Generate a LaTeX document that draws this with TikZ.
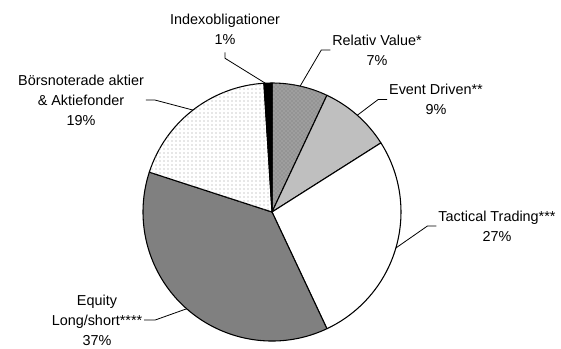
\documentclass[tikz,border=0pt]{standalone}
\usepackage{fontspec}
\setmainfont{Liberation Sans}
\usetikzlibrary{patterns}
\definecolor{rvgray}{gray}{0.62}
\definecolor{edgray}{gray}{0.75}
\definecolor{eqgray}{gray}{0.5}

\begin{document}
\begin{tikzpicture}[x=0.75pt,y=0.75pt]
\tikzstyle{every node}+=[inner sep=0pt, outer sep=1.5pt, align=center, font=\fontsize{10.8}{15}\selectfont]
\tikzstyle{slice}=[draw=black, line width=0.8pt, line join=round]
\tikzstyle{leader}=[draw=black, line width=0.6pt]
\useasboundingbox (0,0) rectangle (561,-349);
\coordinate (c) at (272,-212);
% slices, clockwise from the top
\filldraw [slice, fill=rvgray, postaction={pattern=crosshatch dots, pattern color=black!55}] (c) -- ++(90:129) arc (90:64.8:129) -- cycle;
\filldraw [slice, fill=edgray] (c) -- ++(64.8:129) arc (64.8:32.4:129) -- cycle;
\filldraw [slice, fill=white] (c) -- ++(32.4:129) arc (32.4:-64.8:129) -- cycle;
\filldraw [slice, fill=eqgray] (c) -- ++(-64.8:129) arc (-64.8:-198:129) -- cycle;
\filldraw [slice, fill=white, postaction={pattern=dots, pattern color=black!40}] (c) -- ++(162:129) arc (162:93.6:129) -- cycle;
\filldraw [slice, fill=black] (c) -- ++(93.6:129) arc (93.6:90:129) -- cycle;
% points on the rim
\path (c) ++(93:129) coordinate (ix-tip);
\path (c) ++(77.4:129) coordinate (rv-tip);
\path (c) ++(48.6:129) coordinate (ed-tip);
\path (c) ++(-16.2:129) coordinate (tt-tip);
\path (c) ++(228.6:129) coordinate (eq-tip);
\path (c) ++(127.8:129) coordinate (bo-tip);
% labels
\node (ix) at (225,-29) {Indexobligationer\\1\%};
\node (rv) at (377,-50) {Relativ Value*\\7\%};
\node (ed) at (436,-99.5) {Event Driven**\\9\%};
\node (tt) at (497,-226) {Tactical Trading***\\27\%};
\node (eq) at (97,-320) {Equity\\Long/short****\\37\%};
\node (bo) at (81,-100) {B\"orsnoterade aktier\\\& Aktiefonder\\19\%};
% leader lines
\draw [leader] (ix.south) ++(0,-6) -- ++(0,-6) -- (ix-tip);
\draw [leader] (rv.west) -- ++(-9,0) -- (rv-tip);
\draw [leader] (ed.west) -- ++(-9,0) -- (ed-tip);
\draw [leader] (tt.west) -- ++(-9,0) -- (tt-tip);
\draw [leader] (eq.east) -- ++(11,0) -- (eq-tip);
\draw [leader] (bo.east) -- ++(9,0) -- (bo-tip);
\end{tikzpicture}
\end{document}
